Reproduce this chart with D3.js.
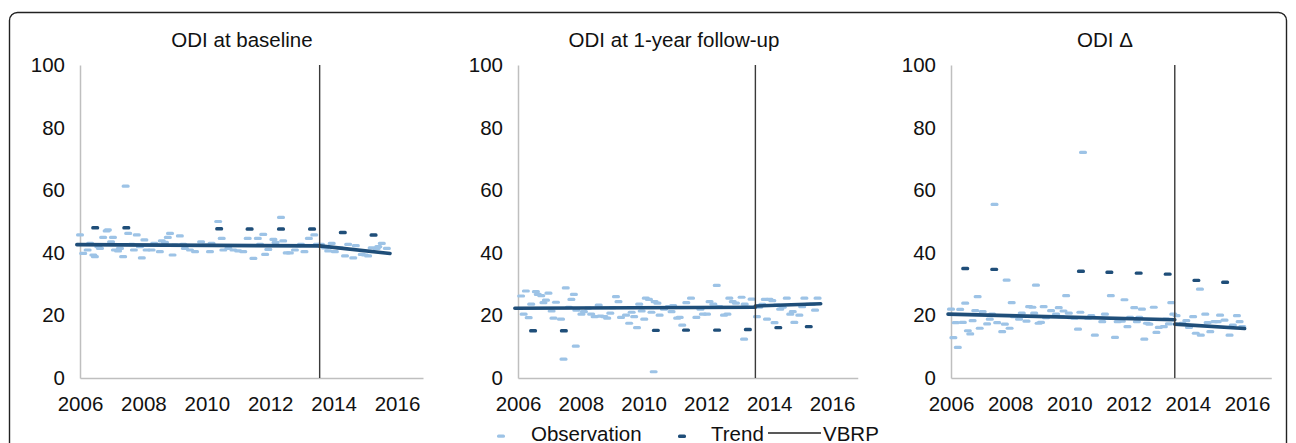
<!DOCTYPE html>
<html>
<head>
<meta charset="utf-8">
<script src="https://cdn.jsdelivr.net/npm/d3@7"></script>
<style>
  body { margin: 0; background: #fff; }
  text { font-family: "Liberation Sans", Arial, sans-serif; fill: #111; }
</style>
</head>
<body>
<div id="main"></div>
<script>
// ---- data ----
const panelTitles = ["ODI at baseline", "ODI at 1-year follow-up", "ODI \u0394"];
const xTicks = [2006, 2008, 2010, 2012, 2014, 2016];
const yTicks = [0, 20, 40, 60, 80, 100];
const vbrpYear = 2013.56;
const legendLabels = ["Observation", "Trend", "VBRP"];

// yearly trend markers
const trendYears = [2006.48, 2007.46, 2010.39, 2011.35, 2012.34, 2013.32, 2014.29, 2015.26];
const trendBaseline = [48.0, 48.0, 47.7, 47.6, 47.6, 47.6, 46.5, 45.7];
const trendFollowup = [15.1, 15.1, 15.2, 15.3, 15.3, 15.5, 16.1, 16.4];
const trendDelta = [35.0, 34.7, 34.1, 33.8, 33.5, 33.2, 31.2, 30.6];

// fitted segmented line (before / after VBRP)
const fitBaseline = [[[2005.9, 42.6], [2013.56, 42.2]], [[2013.56, 42.2], [2015.78, 39.8]]];
const fitFollowup = [[[2005.9, 22.3], [2013.56, 22.6]], [[2013.56, 23.0], [2015.64, 23.7]]];
const fitDelta = [[[2005.9, 20.4], [2013.56, 18.6]], [[2013.56, 17.2], [2015.92, 15.8]]];

// observations [year, value]
const obsBaseline = [[2006.00,45.7],[2006.10,39.8],[2006.24,40.9],[2006.32,43.0],[2006.42,39.3],[2006.47,38.8],[2006.58,42.0],[2006.63,41.4],[2006.73,44.9],[2006.84,47.0],[2006.88,47.3],[2006.98,43.5],[2007.04,44.9],[2007.10,40.9],[2007.20,40.6],[2007.26,41.4],[2007.36,38.8],[2007.44,61.3],[2007.52,46.2],[2007.63,42.7],[2007.70,40.9],[2007.79,45.7],[2007.89,42.0],[2007.95,38.4],[2008.03,44.1],[2008.10,40.9],[2008.26,40.9],[2008.34,43.0],[2008.52,40.4],[2008.58,43.8],[2008.68,43.3],[2008.77,44.9],[2008.84,46.2],[2008.92,39.3],[2008.99,42.5],[2009.15,45.4],[2009.26,42.7],[2009.31,41.4],[2009.47,40.9],[2009.63,40.4],[2009.82,43.5],[2009.94,42.5],[2010.10,40.4],[2010.15,43.0],[2010.36,50.0],[2010.47,44.6],[2010.52,40.9],[2010.68,41.4],[2010.84,40.9],[2010.99,40.6],[2011.15,40.4],[2011.29,44.6],[2011.47,38.2],[2011.61,44.6],[2011.68,42.7],[2011.78,45.9],[2011.84,39.5],[2011.94,41.1],[2012.10,44.3],[2012.17,43.3],[2012.34,51.3],[2012.41,43.8],[2012.52,40.0],[2012.62,40.0],[2012.78,40.9],[2012.89,42.3],[2012.97,42.7],[2013.08,40.4],[2013.22,44.6],[2013.39,45.7],[2013.47,42.7],[2013.60,42.7],[2013.73,41.6],[2013.83,40.6],[2013.94,43.0],[2014.04,40.4],[2014.20,41.6],[2014.36,39.0],[2014.46,42.7],[2014.62,38.4],[2014.70,42.3],[2014.89,39.5],[2014.99,39.3],[2015.09,39.0],[2015.20,41.6],[2015.36,41.4],[2015.41,42.0],[2015.52,43.0],[2015.68,41.4]];

const obsFollowup = [[2006.10,26.2],[2006.18,20.4],[2006.25,27.8],[2006.34,19.3],[2006.42,23.6],[2006.57,27.6],[2006.63,26.7],[2006.74,26.3],[2006.81,24.1],[2006.89,24.9],[2006.97,27.1],[2007.07,21.4],[2007.13,19.1],[2007.21,24.2],[2007.37,18.8],[2007.45,6.0],[2007.52,28.8],[2007.62,22.6],[2007.70,25.1],[2007.78,26.7],[2007.84,10.2],[2007.86,21.7],[2008.02,20.4],[2008.10,21.2],[2008.23,22.3],[2008.33,20.4],[2008.44,19.6],[2008.57,23.3],[2008.63,19.8],[2008.75,19.6],[2008.84,19.1],[2008.94,20.7],[2009.02,22.5],[2009.12,26.0],[2009.20,24.4],[2009.28,19.4],[2009.44,20.1],[2009.54,17.5],[2009.62,21.0],[2009.70,19.6],[2009.79,16.1],[2009.86,23.6],[2009.94,21.4],[2010.02,18.8],[2010.07,25.5],[2010.17,25.1],[2010.25,21.0],[2010.32,2.0],[2010.35,24.4],[2010.44,23.9],[2010.51,20.1],[2010.65,22.0],[2010.80,22.8],[2010.89,21.2],[2010.94,23.1],[2011.07,19.1],[2011.15,19.4],[2011.23,16.9],[2011.36,24.1],[2011.51,25.5],[2011.68,19.4],[2011.81,22.0],[2011.89,20.4],[2012.02,20.4],[2012.10,24.4],[2012.22,23.6],[2012.33,29.6],[2012.41,22.8],[2012.56,20.1],[2012.67,20.4],[2012.73,25.5],[2012.84,24.4],[2012.94,23.9],[2013.12,25.8],[2013.20,12.4],[2013.22,23.6],[2013.30,22.6],[2013.44,25.2],[2013.61,19.6],[2013.68,22.6],[2013.78,23.5],[2013.86,25.1],[2013.93,18.8],[2014.01,25.1],[2014.10,24.7],[2014.17,17.7],[2014.24,23.3],[2014.35,22.0],[2014.43,22.6],[2014.56,25.5],[2014.67,20.4],[2014.75,21.2],[2014.80,17.8],[2014.96,20.1],[2015.05,22.8],[2015.12,25.5],[2015.25,23.5],[2015.36,23.5],[2015.46,21.7],[2015.54,25.5]];

const obsDelta = [[2006.00,22.0],[2006.08,12.9],[2006.16,17.7],[2006.23,9.8],[2006.31,21.9],[2006.40,17.8],[2006.48,23.9],[2006.57,15.1],[2006.65,14.1],[2006.73,18.3],[2006.82,21.5],[2006.90,26.0],[2006.97,15.9],[2007.07,21.2],[2007.22,17.3],[2007.31,18.8],[2007.39,20.4],[2007.47,55.5],[2007.56,17.7],[2007.73,14.8],[2007.82,17.2],[2007.88,31.3],[2007.98,15.9],[2008.05,24.1],[2008.13,19.6],[2008.30,18.8],[2008.39,20.7],[2008.55,18.2],[2008.64,22.8],[2008.75,22.6],[2008.81,20.7],[2008.87,29.7],[2008.96,17.5],[2009.04,17.8],[2009.13,22.8],[2009.21,19.3],[2009.38,21.5],[2009.55,20.4],[2009.64,22.5],[2009.72,19.6],[2009.80,21.4],[2009.89,26.3],[2009.98,20.7],[2010.06,19.3],[2010.17,19.1],[2010.29,15.6],[2010.37,21.0],[2010.46,72.1],[2010.63,19.1],[2010.74,19.9],[2010.86,13.7],[2011.11,18.0],[2011.20,20.4],[2011.40,26.3],[2011.54,13.0],[2011.63,18.0],[2011.77,18.2],[2011.86,25.0],[2011.96,16.4],[2012.05,19.4],[2012.19,22.5],[2012.28,18.0],[2012.36,19.4],[2012.45,22.0],[2012.53,12.4],[2012.62,17.5],[2012.70,17.2],[2012.85,22.6],[2012.94,14.6],[2013.02,16.2],[2013.19,16.4],[2013.27,18.8],[2013.36,17.3],[2013.44,24.1],[2013.51,20.4],[2013.62,19.9],[2013.82,17.5],[2013.95,18.3],[2014.04,16.2],[2014.18,19.6],[2014.27,14.3],[2014.41,28.4],[2014.44,13.7],[2014.59,20.4],[2014.67,17.7],[2014.76,14.8],[2014.90,18.0],[2015.01,18.0],[2015.09,20.1],[2015.24,18.5],[2015.41,13.7],[2015.52,16.9],[2015.66,19.9],[2015.75,18.0],[2015.84,16.4]];

// ---- layout ----
const W = 1296, H = 443;
const panels = [
  { x0: 80, ppy: 31.7, titleX: 242, obs: obsBaseline, trend: trendBaseline, fit: fitBaseline },
  { x0: 518, ppy: 31.4, titleX: 674, obs: obsFollowup, trend: trendFollowup, fit: fitFollowup },
  { x0: 951, ppy: 29.6, titleX: 1105, obs: obsDelta, trend: trendDelta, fit: fitDelta }
];
const xEnd = 2016.82;
const yTop = 65, yBot = 378;
const colObs = "#9dc3e6", colTrend = "#1f4e79";
const fs = "20.5px";

const svg = d3.select("#main").append("svg").attr("width", W).attr("height", H);

// outer frame
svg.append("rect")
  .attr("x", 9.5).attr("y", 12.5)
  .attr("width", 1277).attr("height", 470)
  .attr("rx", 8)
  .attr("fill", "none").attr("stroke", "#222").attr("stroke-width", 1.4);

const yScale = d3.scaleLinear().domain([0, 100]).range([yBot, yTop]);

panels.forEach((p, i) => {
  const g = svg.append("g");
  const xScale = d3.scaleLinear().domain([2006, xEnd]).range([p.x0, p.x0 + (xEnd - 2006) * p.ppy]);

  // title
  g.append("text")
    .attr("x", p.titleX).attr("y", 47)
    .attr("text-anchor", "middle")
    .style("font-size", fs)
    .text(panelTitles[i]);

  // axes
  const yAxis = g.append("g")
    .attr("transform", `translate(${p.x0},0)`)
    .call(d3.axisLeft(yScale).tickValues(yTicks).tickSize(0).tickPadding(15));
  const xAxis = g.append("g")
    .attr("transform", `translate(0,${yBot})`)
    .call(d3.axisBottom(xScale).tickValues(xTicks).tickFormat(d3.format("d")).tickSize(0).tickPadding(18));
  [yAxis, xAxis].forEach(a => {
    a.select(".domain").attr("stroke", "#bfbfbf").attr("stroke-width", 1.5);
    a.selectAll("text").style("font-size", fs).attr("fill", "#111");
  });

  // observations
  g.selectAll("rect.obs")
    .data(p.obs)
    .enter().append("rect")
    .attr("class", "obs")
    .attr("x", d => xScale(d[0]) - 4)
    .attr("y", d => yScale(d[1]) - 1.6)
    .attr("width", 8).attr("height", 3.2).attr("rx", 1.5)
    .attr("fill", colObs);

  // fitted line
  const line = d3.line().x(d => xScale(d[0])).y(d => yScale(d[1]));
  g.selectAll("path.fit")
    .data(p.fit)
    .enter().append("path")
    .attr("class", "fit")
    .attr("d", line)
    .attr("fill", "none")
    .attr("stroke", colTrend)
    .attr("stroke-width", 3.6)
    .attr("stroke-linecap", "round");

  // trend markers
  g.selectAll("rect.trend")
    .data(trendYears)
    .enter().append("rect")
    .attr("class", "trend")
    .attr("x", d => xScale(d) - 4)
    .attr("y", (d, j) => yScale(p.trend[j]) - 1.7)
    .attr("width", 8).attr("height", 3.4).attr("rx", 1.5)
    .attr("fill", colTrend);

  // VBRP line
  g.append("line")
    .attr("x1", xScale(vbrpYear)).attr("x2", xScale(vbrpYear))
    .attr("y1", yTop).attr("y2", yBot)
    .attr("stroke", "#3a3a3a").attr("stroke-width", 1.4);
});

// legend
const lg = svg.append("g");
lg.append("rect").attr("x", 497).attr("y", 434.5).attr("width", 8).attr("height", 3.2).attr("rx", 1.5).attr("fill", colObs);
lg.append("text").attr("x", 531).attr("y", 440.5).style("font-size", fs).text(legendLabels[0]);
lg.append("rect").attr("x", 678).attr("y", 434.5).attr("width", 8).attr("height", 3.4).attr("rx", 1.5).attr("fill", colTrend);
lg.append("text").attr("x", 711).attr("y", 440.5).style("font-size", fs).text(legendLabels[1]);
lg.append("line").attr("x1", 768).attr("x2", 821).attr("y1", 433).attr("y2", 433).attr("stroke", "#222").attr("stroke-width", 1.4);
lg.append("text").attr("x", 823).attr("y", 440.5).style("font-size", fs).text(legendLabels[2]);
</script>
</body>
</html>
